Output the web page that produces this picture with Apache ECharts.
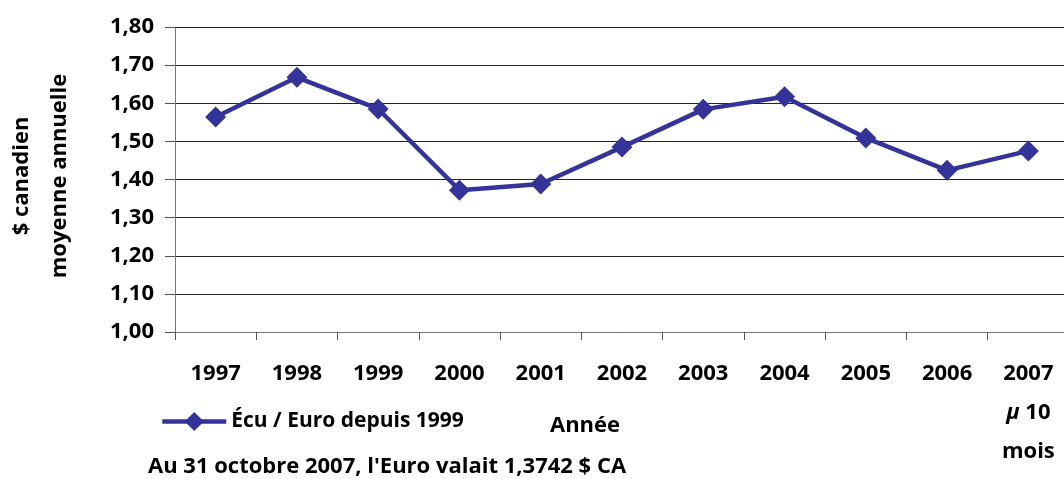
<!DOCTYPE html>
<html>
<head>
<meta charset="utf-8">
<script src="https://cdn.jsdelivr.net/npm/echarts@6/dist/echarts.min.js"></script>
<style>
    html, body { margin: 0; padding: 0; background: #fff; }
    #main { width: 1064px; height: 479px; }
</style>
</head>
<body>
<div id="main"></div>
<script>
var annees = ['1997', '1998', '1999', '2000', '2001', '2002', '2003', '2004', '2005', '2006', '2007'];
var euroValeurs = [1.564, 1.668, 1.585, 1.372, 1.388, 1.485, 1.584, 1.617, 1.509, 1.424, 1.475];
var nomSerie = 'Écu / Euro depuis 1999';

var police = '"Open Sans", "DejaVu Sans", sans-serif';
var chartDom = document.getElementById('main');
var myChart = echarts.init(chartDom);
var option;

option = {
    animation: false,
    backgroundColor: '#fff',
    textStyle: { fontFamily: police },
    // la dernière catégorie déborde un peu à droite, comme dans l'original
    grid: { left: 175, right: -5, top: 27, bottom: 147, containLabel: false, outerBoundsMode: 'none' },
    legend: {
        left: 155,
        top: 406,
        itemWidth: 64,
        itemHeight: 24,
        itemGap: 10,
        lineStyle: { width: 4.5 },
        textStyle: { fontFamily: police, fontSize: 21, fontWeight: 'bold', color: '#000' },
        data: [nomSerie]
    },
    xAxis: {
        type: 'category',
        data: annees,
        boundaryGap: true,
        axisLine: { lineStyle: { color: '#777', width: 1 } },
        axisTick: { show: true, length: 8, alignWithLabel: false, lineStyle: { color: '#555' } },
        axisLabel: {
            interval: 0,
            margin: 22,
            color: '#000',
            fontFamily: police,
            fontSize: 22,
            fontWeight: 'bold',
            lineHeight: 39,
            formatter: function (v) {
                // la dernière année ne compte que 10 mois
                if (v === '2007') return '2007\n{m|μ} 10\nmois';
                return v;
            },
            rich: {
                m: { fontFamily: police, fontSize: 22, fontWeight: 'bold', fontStyle: 'italic', color: '#000', lineHeight: 39 }
            }
        }
    },
    yAxis: {
        type: 'value',
        min: 1,
        max: 1.8,
        interval: 0.1,
        axisLine: { show: true, lineStyle: { color: '#777', width: 1 } },
        axisTick: { show: true, length: 10, lineStyle: { color: '#555' } },
        splitLine: { lineStyle: { color: '#222', width: 1 } },
        axisLabel: {
            margin: 21,
            color: '#000',
            fontFamily: police,
            fontSize: 22,
            fontWeight: 'bold',
            formatter: function (v) { return v.toFixed(2).replace('.', ','); }
        }
    },
    graphic: [
        {
            type: 'text',
            x: 41,
            y: 176,
            rotation: Math.PI / 2,
            style: {
                text: '$ canadien\nmoyenne annuelle',
                fill: '#000',
                font: 'bold 22px ' + police,
                align: 'center',
                verticalAlign: 'middle',
                lineHeight: 38
            }
        },
        {
            type: 'text',
            x: 585,
            y: 426,
            style: {
                text: 'Année',
                fill: '#000',
                font: 'bold 22px ' + police,
                align: 'center',
                verticalAlign: 'middle'
            }
        },
        {
            type: 'text',
            x: 148,
            y: 467,
            style: {
                text: "Au 31 octobre 2007, l'Euro valait 1,3742 $ CA",
                fill: '#000',
                font: 'bold 22px ' + police,
                align: 'left',
                verticalAlign: 'middle'
            }
        }
    ],
    series: [
        {
            name: nomSerie,
            type: 'line',
            data: euroValeurs,
            symbol: 'diamond',
            symbolSize: 21,
            itemStyle: { color: '#333399' },
            lineStyle: { color: '#333399', width: 4.5 }
        }
    ]
};
option && myChart.setOption(option);
</script>
</body>
</html>
